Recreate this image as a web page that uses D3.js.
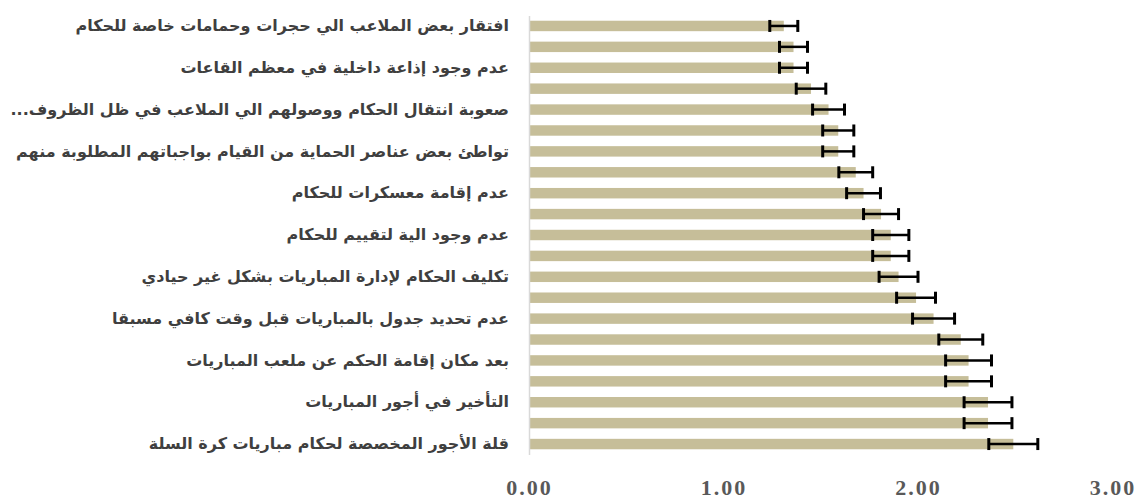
<!DOCTYPE html>
<html>
<head>
<meta charset="utf-8">
<script src="https://cdn.jsdelivr.net/npm/d3@7/dist/d3.min.js"></script>
<style>
  html, body { margin: 0; padding: 0; background: #ffffff; }
  svg { display: block; }
</style>
</head>
<body>
<svg id="chart" width="1136" height="503"></svg>
<script>
// Problems facing basketball referees, ordered top to bottom.
// Every second category carries a visible axis label; the others are left blank.
const categoryLabels = [
  "افتقار بعض الملاعب الي حجرات وحمامات خاصة للحكام",
  "",
  "عدم وجود إذاعة داخلية في معظم القاعات",
  "",
  "صعوبة انتقال الحكام ووصولهم الي الملاعب في ظل الظروف...",
  "",
  "تواطئ بعض عناصر الحماية من القيام بواجباتهم المطلوبة منهم",
  "",
  "عدم إقامة معسكرات للحكام",
  "",
  "عدم وجود الية لتقييم للحكام",
  "",
  "تكليف الحكام لإدارة المباريات بشكل غير حيادي",
  "",
  "عدم تحديد جدول بالمباريات قبل وقت كافي مسبقا",
  "",
  "بعد مكان إقامة الحكم عن ملعب المباريات",
  "",
  "التأخير في أجور المباريات",
  "",
  "قلة الأجور المخصصة لحكام مباريات كرة السلة"
];

// Mean scores
const meanValues = [
  1.31, 1.36, 1.36, 1.45, 1.54, 1.59, 1.59, 1.68, 1.72, 1.81, 1.86,
  1.86, 1.90, 1.99, 2.08, 2.22, 2.26, 2.26, 2.36, 2.36, 2.49
];

// Error bar half-widths
const errorValues = [
  0.072, 0.072, 0.072, 0.076, 0.082, 0.080, 0.080, 0.087, 0.087, 0.090, 0.093,
  0.093, 0.100, 0.100, 0.108, 0.113, 0.118, 0.118, 0.123, 0.123, 0.126
];

const xTicks = [0, 1, 2, 3];

const rows = categoryLabels.map((label, i) => ({
  id: i, label, value: meanValues[i], err: errorValues[i]
}));

const svg = d3.select("#chart");

const x = d3.scaleLinear().domain([0, 3]).range([529, 1112.5]);
const y = d3.scaleBand()
  .domain(rows.map(d => d.id))
  .range([15.5, 454.5])
  .paddingInner(0.5)
  .paddingOuter(0.25);

// Bars
svg.append("g")
  .selectAll("rect")
  .data(rows)
  .join("rect")
    .attr("x", x(0))
    .attr("y", d => y(d.id))
    .attr("width", d => x(d.value) - x(0))
    .attr("height", y.bandwidth())
    .attr("fill", "#c6be99");

// Error bars
const eb = svg.append("g")
  .selectAll("g")
  .data(rows)
  .join("g")
    .attr("transform", d => `translate(0,${y(d.id) + y.bandwidth() / 2})`)
    .attr("stroke", "#000")
    .attr("stroke-width", 3);

eb.append("line")
  .attr("x1", d => x(d.value - d.err))
  .attr("x2", d => x(d.value + d.err))
  .attr("stroke-width", 2.5);
eb.append("line")
  .attr("x1", d => x(d.value - d.err))
  .attr("x2", d => x(d.value - d.err))
  .attr("y1", -6).attr("y2", 6);
eb.append("line")
  .attr("x1", d => x(d.value + d.err))
  .attr("x2", d => x(d.value + d.err))
  .attr("y1", -6).attr("y2", 6);

// Category axis
const yAxis = svg.append("g")
  .attr("transform", `translate(${x(0)},0)`)
  .call(d3.axisLeft(y)
    .tickSize(0)
    .tickPadding(20)
    .tickFormat(i => categoryLabels[i]));

yAxis.select(".domain")
  .attr("stroke", "#d9d9d9")
  .attr("stroke-width", 1.5);

yAxis.selectAll("text")
  .attr("direction", "rtl")
  .attr("text-anchor", "start")
  .attr("font-family", "'DejaVu Sans', sans-serif")
  .attr("font-weight", "bold")
  .attr("font-size", 16)
  .attr("fill", "#3f3f3f");

// Value axis
const xAxis = svg.append("g")
  .attr("transform", "translate(0,479)")
  .call(d3.axisBottom(x)
    .tickValues(xTicks)
    .tickSize(0)
    .tickPadding(0)
    .tickFormat(d3.format(".2f")));

xAxis.select(".domain").remove();
xAxis.selectAll("text")
  .attr("dy", "0.71em")
  .attr("font-family", "'Liberation Serif', serif")
  .attr("font-weight", "bold")
  .attr("font-size", 22)
  .attr("letter-spacing", 2)
  .attr("fill", "#595959");
</script>
</body>
</html>
